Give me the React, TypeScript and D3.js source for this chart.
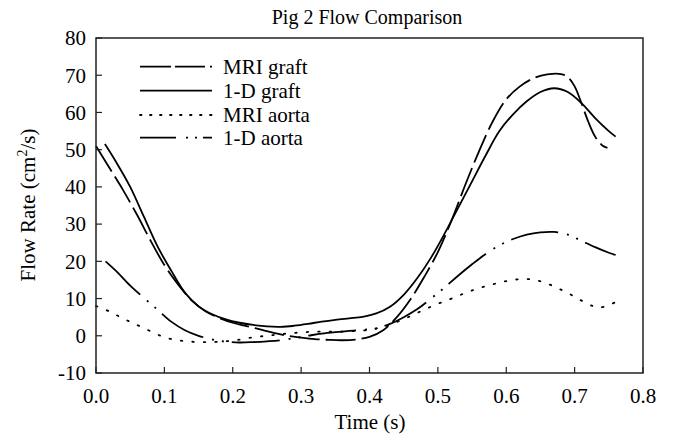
import React from 'react';
import * as d3 from 'd3';

const chartTitle = 'Pig 2 Flow Comparison';
const xLabel = 'Time (s)';
const xTicks = [0, 0.1, 0.2, 0.3, 0.4, 0.5, 0.6, 0.7, 0.8];
const yTicks = [-10, 0, 10, 20, 30, 40, 50, 60, 70, 80];

const mriGraftT = [0, 0.02, 0.04, 0.06, 0.08, 0.1, 0.12, 0.14, 0.16, 0.18, 0.2, 0.22, 0.24, 0.26, 0.28, 0.3, 0.32, 0.34, 0.36, 0.38, 0.4, 0.42, 0.44, 0.46, 0.48, 0.5, 0.52, 0.54, 0.56, 0.58, 0.6, 0.62, 0.64, 0.66, 0.68, 0.69, 0.7, 0.71, 0.72, 0.73, 0.74, 0.748];
const mriGraftQ = [51, 45, 39, 32.5, 25.5, 19, 13.8, 9.5, 6.6, 4.8, 3.5, 2.6, 1.7, 0.8, 0, -0.5, -0.9, -1.1, -1.2, -1.0, -0.3, 1.5, 5, 9.8, 15.8, 22.5, 31, 40.5, 49.5, 57.5, 63.5, 67, 69.2, 70.2, 70.3, 69.5, 67, 62.5, 57.5, 53.5, 51.2, 50.5];

const oneDGraftT = [0.013, 0.03, 0.05, 0.07, 0.09, 0.11, 0.13, 0.15, 0.17, 0.19, 0.21, 0.23, 0.25, 0.27, 0.29, 0.31, 0.33, 0.35, 0.37, 0.39, 0.41, 0.43, 0.45, 0.47, 0.49, 0.51, 0.53, 0.55, 0.57, 0.59, 0.61, 0.63, 0.65, 0.67, 0.69, 0.71, 0.73, 0.75, 0.76];
const oneDGraftQ = [51.5, 46.5, 40, 32, 24, 17.5, 11.6, 7.9, 5.8, 4.4, 3.5, 2.9, 2.5, 2.4, 2.7, 3.2, 3.8, 4.3, 4.7, 5.1, 6.0, 7.8, 11, 15.5, 21, 27.5, 34.5, 41.5, 48.5, 55, 59.5, 63, 65.5, 66.5, 65.5, 62.5, 58.5, 55, 53.5];

const mriAortaT = [0, 0.02, 0.04, 0.06, 0.08, 0.1, 0.12, 0.14, 0.16, 0.18, 0.2, 0.22, 0.24, 0.26, 0.28, 0.3, 0.32, 0.34, 0.36, 0.38, 0.4, 0.42, 0.44, 0.46, 0.48, 0.5, 0.52, 0.54, 0.56, 0.58, 0.6, 0.62, 0.64, 0.66, 0.68, 0.7, 0.72, 0.735, 0.75, 0.76];
const mriAortaQ = [8, 6.5, 4.6, 2.9, 1.2, -0.4, -1.2, -1.6, -1.7, -1.6, -1.3, -0.7, -0.2, 0.2, 0.6, 0.9, 1.1, 1.1, 1.1, 1.3, 1.6, 2.4, 3.7, 5.3, 7, 8.6, 10, 11.5, 12.8, 13.8, 14.7, 15.2, 15.1, 14, 12.4, 10.5, 8.5, 7.6, 8.2, 9.1];

const oneDAortaT = [0.014, 0.03, 0.05, 0.07, 0.09, 0.11, 0.13, 0.15, 0.17, 0.19, 0.21, 0.23, 0.25, 0.27, 0.29, 0.31, 0.33, 0.35, 0.37, 0.39, 0.41, 0.43, 0.45, 0.47, 0.49, 0.51, 0.53, 0.55, 0.57, 0.59, 0.61, 0.63, 0.65, 0.67, 0.69, 0.71, 0.73, 0.75, 0.76];
const oneDAortaQ = [20, 17.3, 13.5, 10.2, 7, 3.8, 1.5, 0, -1, -1.6, -1.8, -1.7, -1.5, -1.2, -0.6, 0, 0.6, 1.0, 1.3, 1.6, 2.0, 3.2, 5, 7.2, 10, 13, 16.2, 19.2, 22, 24.3, 26, 27.2, 27.8, 27.9, 27.2, 25.5, 23.8, 22.3, 21.7];

const seriesNames = ['MRI graft', '1-D graft', 'MRI aorta', '1-D aorta'];
const seriesT = [mriGraftT, oneDGraftT, mriAortaT, oneDAortaT];
const seriesQ = [mriGraftQ, oneDGraftQ, mriAortaQ, oneDAortaQ];
const seriesDash = ['30,6', 'none', '1.5,10', '48,9,2,8,2,8'];
const legendDash = ['31,4,30,5,2,10', 'none', '1.5,8.5', '36,10,2,7,2,6'];

const W = 673;
const H = 437;
const FONT = '"Liberation Serif", "Times New Roman", serif';

export default function App() {
  const x = d3.scaleLinear().domain([0, 0.8]).range([96, 643]);
  const y = d3.scaleLinear().domain([-10, 80]).range([373, 38]);
  const line = d3
    .line<[number, number]>()
    .x((d) => x(d[0]))
    .y((d) => y(d[1]))
    .curve(d3.curveCatmullRom.alpha(0.5));

  const legendY = [66.7, 90.7, 115, 137.7];

  return (
    <svg
      width={W}
      height={H}
      style={{ position: 'absolute', left: 0, top: 0, background: '#fff' }}
      fontFamily={FONT}
    >
      <rect x={0} y={0} width={W} height={H} fill="#fff" />
      <text x={367} y={24} fontSize={20} textAnchor="middle" fill="#000">
        {chartTitle}
      </text>

      {seriesNames.map((name, i) => {
        const pts = seriesT[i].map((t, j) => [t, seriesQ[i][j]] as [number, number]);
        return (
          <path
            key={name}
            d={line(pts) || ''}
            fill="none"
            stroke="#000"
            strokeWidth={1.8}
            strokeDasharray={seriesDash[i]}
            strokeLinecap={i === 2 ? 'round' : 'butt'}
          />
        );
      })}

      <rect x={96} y={38} width={643 - 96} height={373 - 38} fill="none" stroke="#222" strokeWidth={1.5} />

      {yTicks.map((v) => (
        <g key={'y' + v}>
          <line x1={96} x2={102} y1={y(v)} y2={y(v)} stroke="#222" strokeWidth={1.2} />
          <text x={86} y={y(v)} dy="0.35em" fontSize={21} textAnchor="end" fill="#000">
            {v}
          </text>
        </g>
      ))}

      {xTicks.map((v) => (
        <g key={'x' + v}>
          <line x1={x(v)} x2={x(v)} y1={373} y2={367} stroke="#222" strokeWidth={1.2} />
          <text x={x(v)} y={403} fontSize={21} textAnchor="middle" fill="#000">
            {v.toFixed(1)}
          </text>
        </g>
      ))}

      <text x={370} y={429} fontSize={21} textAnchor="middle" fill="#000">
        {xLabel}
      </text>

      <text
        transform="translate(35,205) rotate(-90)"
        fontSize={21}
        textAnchor="middle"
        fill="#000"
      >
        Flow Rate (cm
        <tspan fontSize={14} dy={-8}>2</tspan>
        <tspan dy={8}>/s)</tspan>
      </text>

      {seriesNames.map((name, i) => (
        <g key={'lg' + name}>
          <line
            x1={140}
            x2={212}
            y1={legendY[i]}
            y2={legendY[i]}
            stroke="#000"
            strokeWidth={1.8}
            strokeDasharray={legendDash[i]}
            strokeLinecap={i === 2 ? 'round' : 'butt'}
          />
          <text x={223} y={legendY[i]} dy="0.35em" fontSize={21} fill="#000">
            {name}
          </text>
        </g>
      ))}
    </svg>
  );
}
